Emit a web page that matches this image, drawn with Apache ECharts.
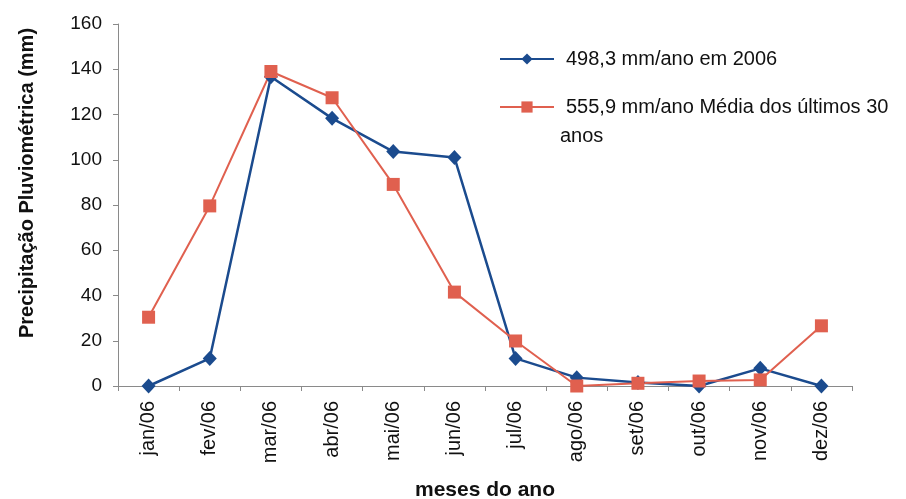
<!DOCTYPE html>
<html>
<head>
<meta charset="utf-8">
<script src="https://cdn.jsdelivr.net/npm/echarts@6/dist/echarts.min.js"></script>
<style>
  html, body { margin: 0; padding: 0; background: #ffffff; }
  #chart { width: 906px; height: 499px; }
</style>
</head>
<body>
<div id="chart"></div>
<script>
// Monthly rainfall, 2006 vs. 30-year average
const months = ['jan/06', 'fev/06', 'mar/06', 'abr/06', 'mai/06', 'jun/06',
                'jul/06', 'ago/06', 'set/06', 'out/06', 'nov/06', 'dez/06'];
const rain2006 = [0, 12.2, 136.7, 118.3, 103.6, 101, 12.2, 3.7, 1.5, 0, 7.8, 0];
const rainAvg30 = [30.4, 79.6, 139, 127.4, 89.1, 41.5, 19.9, 0, 1.2, 2.2, 2.7, 26.6];
const yTicks = [0, 20, 40, 60, 80, 100, 120, 140, 160];

const name2006 = '498,3 mm/ano em 2006';
const nameAvg = '555,9 mm/ano Média dos últimos 30 anos';
const nameAvgLine1 = '555,9 mm/ano Média dos últimos 30';
const nameAvgLine2 = 'anos';

const FONT = 'Arial, "Liberation Sans", sans-serif';
const chart = echarts.init(document.getElementById('chart'), null, { renderer: 'canvas' });

chart.setOption({
  backgroundColor: '#ffffff',
  animation: false,
  grid: {
    left: 118, right: 54, top: 24, bottom: 113,
    containLabel: false, outerBoundsMode: 'none'
  },
  legend: {
    orient: 'vertical',
    left: 499,
    top: 49,
    padding: 0,
    itemWidth: 54,
    itemHeight: 14,
    itemGap: 28,
    textStyle: {
      fontFamily: FONT, fontSize: 20, color: '#111', lineHeight: 20,
      padding: [0, 0, 0, 7]
    },
    formatter: n => (n === nameAvg ? nameAvgLine1 : n),
    data: [name2006, nameAvg]
  },
  graphic: [
    {
      type: 'text', left: 560, top: 126,
      style: { text: nameAvgLine2, font: '20px ' + FONT, fill: '#111' }
    },
    {
      type: 'text', x: 27, y: 183, rotation: Math.PI / 2,
      style: {
        text: 'Precipitação Pluviométrica (mm)',
        font: 'bold 20px ' + FONT, fill: '#111',
        align: 'center', verticalAlign: 'middle'
      }
    }
  ],
  xAxis: {
    type: 'category',
    data: months,
    boundaryGap: true,
    axisLine: { lineStyle: { color: '#8a8a8a', width: 1 } },
    axisTick: { show: true, length: 5, lineStyle: { color: '#8a8a8a' } },
    axisLabel: {
      rotate: 90, fontFamily: FONT, fontSize: 20, color: '#111', margin: 15
    },
    name: 'meses do ano',
    nameLocation: 'middle',
    nameGap: 94,
    nameTextStyle: { fontFamily: FONT, fontSize: 21, fontWeight: 'bold', color: '#111' }
  },
  yAxis: {
    type: 'value',
    min: yTicks[0],
    max: yTicks[yTicks.length - 1],
    interval: 20,
    splitLine: { show: false },
    axisLine: { show: true, lineStyle: { color: '#8a8a8a', width: 1 } },
    axisTick: { show: true, length: 5, lineStyle: { color: '#8a8a8a' } },
    axisLabel: { fontFamily: FONT, fontSize: 19, color: '#111', margin: 16 }
  },
  series: [
    {
      name: name2006,
      type: 'line',
      data: rain2006,
      symbol: 'diamond',
      symbolSize: [14, 15],
      itemStyle: { color: '#1b4b8e' },
      lineStyle: { color: '#1b4b8e', width: 2.5 }
    },
    {
      name: nameAvg,
      type: 'line',
      data: rainAvg30,
      symbol: 'rect',
      symbolSize: 13,
      itemStyle: { color: '#e0604f' },
      lineStyle: { color: '#e0604f', width: 2 }
    }
  ]
});
</script>
</body>
</html>
